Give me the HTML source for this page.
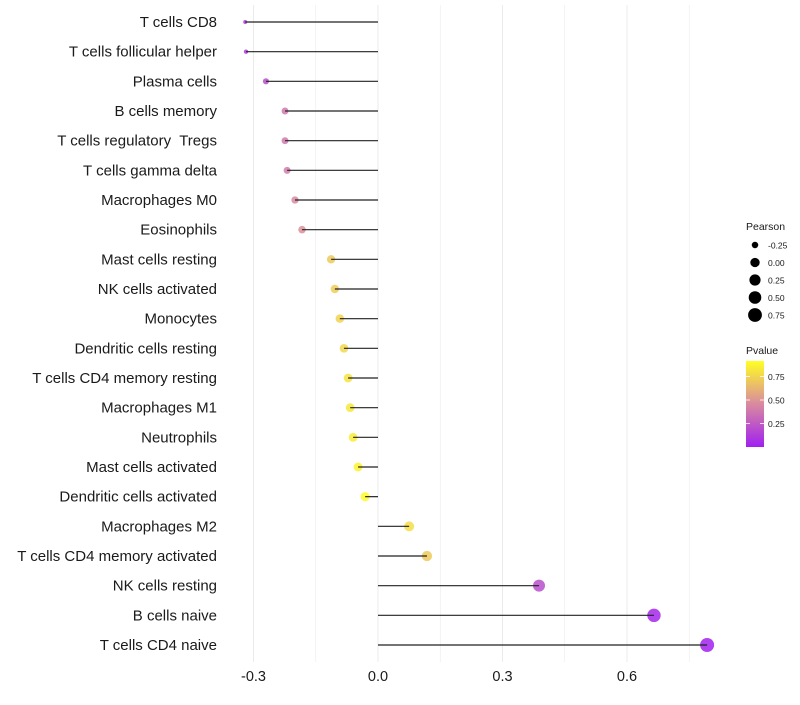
<!DOCTYPE html>
<html><head><meta charset="utf-8">
<style>
body{margin:0;background:#fff;}
svg text{font-family:"Liberation Sans",sans-serif;white-space:pre;}
</style></head>
<body>
<svg id="chart" width="800" height="700" xmlns="http://www.w3.org/2000/svg">
<defs>
<linearGradient id="pgrad" x1="0" y1="1" x2="0" y2="0">
<stop offset="0" stop-color="#a020f0"/>
<stop offset="0.5" stop-color="#d98aa0"/>
<stop offset="1" stop-color="#ffff22"/>
</linearGradient>
</defs>
<g id="grid"></g>
<g id="marks"></g>
<g id="ylabels"></g>
<g id="xlabels"></g>
<g id="legend"></g>
</svg>
<script>
const categories=["T cells CD8","T cells follicular helper","Plasma cells","B cells memory","T cells regulatory  Tregs","T cells gamma delta","Macrophages M0","Eosinophils","Mast cells resting","NK cells activated","Monocytes","Dendritic cells resting","T cells CD4 memory resting","Macrophages M1","Neutrophils","Mast cells activated","Dendritic cells activated","Macrophages M2","T cells CD4 memory activated","NK cells resting","B cells naive","T cells CD4 naive"];
const pearson=[-0.32,-0.318,-0.27,-0.224,-0.224,-0.219,-0.2,-0.183,-0.113,-0.104,-0.092,-0.082,-0.072,-0.067,-0.06,-0.048,-0.031,0.075,0.118,0.388,0.665,0.793];
const pvalue=[0.12,0.13,0.2,0.38,0.38,0.4,0.45,0.48,0.7,0.72,0.74,0.76,0.8,0.82,0.84,0.87,0.9,0.78,0.7,0.2,0.03,0.01];
const xTicks=[-0.3,0,0.3,0.6];
const xTickLabels=["-0.3","0.0","0.3","0.6"];
const sizeLegend=[-0.25,0,0.25,0.5,0.75];
const sizeLegendLabels=["-0.25","0.00","0.25","0.50","0.75"];
const pLegend=[0.25,0.5,0.75];
const pLegendLabels=["0.25","0.50","0.75"];

const NS="http://www.w3.org/2000/svg";
const x=v=>378+v*415;
const y=i=>22+i*(623/(categories.length-1));
const pMin=-0.32,pMax=0.793;
const r=v=>{const t=Math.max(0,(v-pMin)/(pMax-pMin));return 2+5*Math.sqrt(t);};
function lerp(a,b,t){return a.map((c,k)=>Math.round(c+(b[k]-c)*t));}
function col(p){const t=Math.min(1,p/0.91);const A=[160,32,240],B=[217,138,160],C=[255,255,34];
 const c=t<0.5?lerp(A,B,t/0.5):lerp(B,C,(t-0.5)/0.5);return `rgb(${c})`;}
function mk(tag,attrs,parent){const e=document.createElementNS(NS,tag);for(const k in attrs)e.setAttribute(k,attrs[k]);parent.appendChild(e);return e;}

const grid=document.getElementById('grid');
[-0.3,-0.15,0,0.15,0.3,0.45,0.6,0.75].forEach(v=>{
 const l=mk('line',{x1:x(v),x2:x(v),y1:5,y2:662,stroke:'#ebebeb','stroke-width':(Math.round(v*100)%30===0)?1:0.6},grid);
 
 
});
const marks=document.getElementById('marks');
categories.forEach((c,i)=>{
 const dot=mk('circle',{cx:x(pearson[i]),cy:y(i),r:r(pearson[i]),fill:col(pvalue[i]),'fill-opacity':0.85},marks);
 
 
 const seg=mk('line',{x1:x(0),x2:x(pearson[i]),y1:y(i),y2:y(i),stroke:'#222','stroke-width':1.2},marks);
 
 
});
const yl=document.getElementById('ylabels');
categories.forEach((c,i)=>{
 const t=mk('text',{x:217,y:y(i)+5,'text-anchor':'end','font-size':15,fill:'#1a1a1a'},yl);
 t.textContent=c;
 
 
});
const xl=document.getElementById('xlabels');
xTicks.forEach((v,i)=>{
 const t=mk('text',{x:x(v),y:681,'text-anchor':'middle','font-size':14.5,fill:'#1a1a1a'},xl);
 t.textContent=xTickLabels[i];
 
 
});
const lg=document.getElementById('legend');
let tt=mk('text',{x:746,y:230,'font-size':10.5,fill:'#1a1a1a'},lg);tt.textContent='Pearson';


sizeLegend.forEach((v,i)=>{
 const cy=245+i*17.5;
 const c=mk('circle',{cx:755,cy:cy,r:r(v),fill:'#000'},lg);
 
 
 const t=mk('text',{x:768,y:cy+3.5,'font-size':8.5,fill:'#1a1a1a'},lg);t.textContent=sizeLegendLabels[i];
 
 
});
tt=mk('text',{x:746,y:354,'font-size':10.5,fill:'#1a1a1a'},lg);tt.textContent='Pvalue';


const bar=mk('rect',{x:746,y:361,width:18,height:86,fill:'url(#pgrad)'},lg);


const py=p=>447-p*94;
pLegend.forEach((p,i)=>{
 mk('line',{x1:746,x2:750,y1:py(p),y2:py(p),stroke:'#fff','stroke-width':0.8},lg);
 mk('line',{x1:760,x2:764,y1:py(p),y2:py(p),stroke:'#fff','stroke-width':0.8},lg);
 const t=mk('text',{x:768,y:py(p)+3.5,'font-size':8.5,fill:'#1a1a1a'},lg);t.textContent=pLegendLabels[i];
 
 
});
</script>
</body></html>
